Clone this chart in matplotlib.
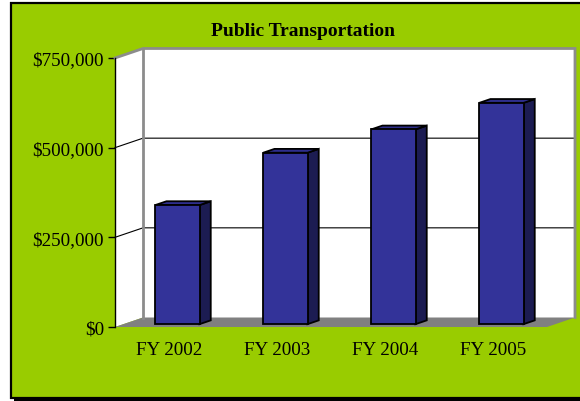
import matplotlib.pyplot as plt
from matplotlib.patches import Rectangle, Polygon
from matplotlib.lines import Line2D
from matplotlib.transforms import Affine2D, IdentityTransform
from matplotlib.ticker import FuncFormatter

plt.rcParams['font.family'] = ['Liberation Serif', 'DejaVu Serif']

years = ["FY 2002", "FY 2003", "FY 2004", "FY 2005"]
funding = [332000, 478000, 543000, 617000]
y_ticks = [0, 250000, 500000, 750000]
title = "Public Transportation"

green = '#99CC00'
front_col = '#333399'
top_col = '#2E2E8C'
side_col = '#1C1C52'
wall_gray = '#8C8C8C'
floor_gray = '#808080'

# oblique depth offset of the 3-D box, in pixels (dpi 100, y up)
DX, DY = 28.0, 9.5
D0, D1 = 0.3, 0.7   # bar depth range

W, H = 580, 402
fig = plt.figure(figsize=(W / 100, H / 100), dpi=100)

# chart area background, border (top/left/bottom) and bottom shadow
fig.patches.append(Rectangle((14 / W, 0), 1.0, 4 / H, transform=fig.transFigure,
                             facecolor='black', edgecolor='none', zorder=-3))
fig.patches.append(Rectangle((11 / W, 3 / H), 1.0, 395 / H, transform=fig.transFigure,
                             facecolor=green, edgecolor='none', zorder=-2))
for xs, ys in [([10 / W, 1.02], [398 / H, 398 / H]),
               ([11 / W, 11 / W], [2 / H, 399 / H]),
               ([10 / W, 1.02], [3 / H, 3 / H])]:
    fig.lines.append(Line2D(xs, ys, transform=fig.transFigure, color='black',
                            linewidth=1.6, solid_capstyle='butt'))

ax = fig.add_axes([115 / W, 74 / H, 432 / W, 269 / H])
ax.set_xlim(-0.5, len(years) - 0.5)
ax.set_ylim(0, 750000)
ax.patch.set_visible(False)
for s in ['top', 'right', 'bottom']:
    ax.spines[s].set_visible(False)
ax.spines['left'].set_linewidth(1.0)
ax.spines['left'].set_zorder(6)

ax.set_yticks(y_ticks)
ax.yaxis.set_major_formatter(FuncFormatter(lambda v, p: "${:,.0f}".format(v)))
ax.tick_params(axis='y', direction='out', length=5, width=1, pad=3, labelsize=13.7)
ax.set_xticks(range(len(years)))
ax.set_xticklabels(years)
ax.tick_params(axis='x', length=0, pad=10, labelsize=13.7)

fig.canvas.draw()


def px(x, y, d):
    a, b = ax.transData.transform((x, y))
    return (a + d * DX, b + d * DY)


x0, x1 = -0.5, len(years) - 0.5
ident = IdentityTransform()


def poly(pts, **kw):
    ax.add_patch(Polygon(pts, closed=True, transform=ident, clip_on=False, **kw))


def line(pts, **kw):
    ax.add_line(Line2D([p[0] for p in pts], [p[1] for p in pts], transform=ident,
                       clip_on=False, **kw))


# floor, back wall, left wall
poly([px(x0, 0, 0), px(x1, 0, 0), px(x1, 0, 1), px(x0, 0, 1)],
     facecolor=floor_gray, edgecolor='none', zorder=1)
poly([px(x0, 0, 1), px(x1, 0, 1), px(x1, 750000, 1), px(x0, 750000, 1)],
     facecolor='white', edgecolor='none', zorder=0.5)
poly([px(x0, 0, 0), px(x0, 0, 1), px(x0, 750000, 1), px(x0, 750000, 0)],
     facecolor='white', edgecolor='none', zorder=0.5)

# gridlines on left and back walls
for v in y_ticks[1:-1]:
    line([px(x0, v, 0), px(x0, v, 1), px(x1, v, 1)], color='black', linewidth=0.8, zorder=2)

# gray wall edges
line([px(x0, 750000, 0), px(x0, 750000, 1), px(x1, 750000, 1), px(x1, 0, 1)],
     color=wall_gray, linewidth=2, zorder=2, solid_joinstyle='miter')
line([px(x0, 750000, 1), px(x0, 0, 1)], color=wall_gray, linewidth=2, zorder=2)

# bars: front faces through ax.bar, shifted to their depth
front_tr = ax.transData + Affine2D().translate(D0 * DX, D0 * DY)
bars = ax.bar(range(len(years)), funding, width=0.41, color=front_col,
              edgecolor='black', linewidth=1.3, zorder=4)
for b in bars:
    b.set_transform(front_tr)
    l, r, h = b.get_x(), b.get_x() + b.get_width(), b.get_height()
    poly([px(r, 0, D0), px(r, 0, D1), px(r, h, D1), px(r, h, D0)],
         facecolor=side_col, edgecolor='black', linewidth=1.3, zorder=3.5, joinstyle='miter')
    poly([px(l, h, D0), px(r, h, D0), px(r, h, D1), px(l, h, D1)],
         facecolor=top_col, edgecolor='black', linewidth=1.3, zorder=3.5, joinstyle='miter')

fig.text(303 / W, 1 - 31 / H, title, ha='center', va='center',
         fontsize=14, fontweight='bold')

fig.savefig('out.png', dpi=100)
